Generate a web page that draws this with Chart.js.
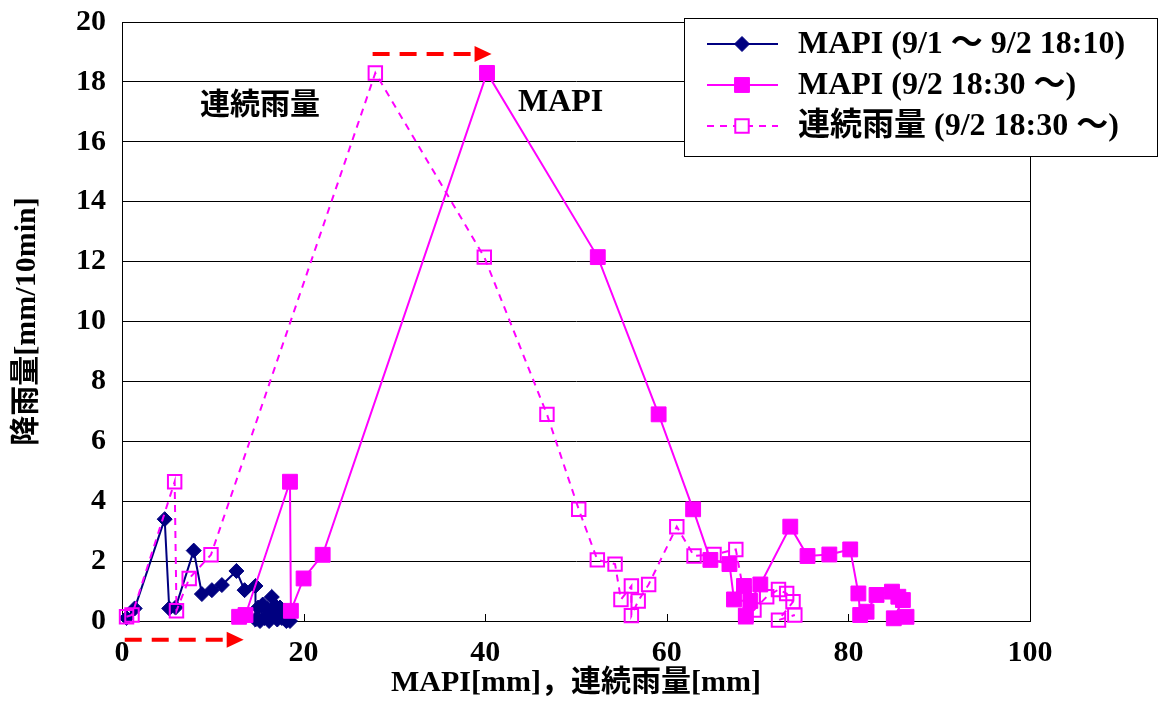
<!DOCTYPE html>
<html>
<head>
<meta charset="utf-8">
<script src="https://cdn.jsdelivr.net/npm/chart.js@4/dist/chart.umd.min.js"></script>
<style>
  html, body { margin: 0; padding: 0; background: #ffffff; }
  #wrap { width: 1162px; height: 702px; }
</style>
</head>
<body>
<div id="wrap"><canvas id="c" width="1162" height="702"></canvas></div>
<script>
// ---- series data: x = MAPI or continuous rainfall [mm], y = rainfall [mm/10min]
const seriesLabels = ['MAPI (9/1 ～ 9/2 18:10)', 'MAPI (9/2 18:30 ～)', '連続雨量 (9/2 18:30 ～)'];

const mapiEarlyX = [0.5, 1.4, 4.7, 5.2, 5.9, 7.9, 8.8, 9.9, 11.0, 12.6, 13.5, 14.7, 14.7, 15.0, 15.2, 15.5, 15.7, 16.0, 16.2, 16.5, 16.7, 16.9, 17.1, 17.4, 17.6, 17.9, 18.1, 18.4, 18.5];
const mapiEarlyY = [0.1, 0.42, 3.4, 0.42, 0.45, 2.35, 0.9, 1.03, 1.2, 1.67, 1.03, 1.17, 0.05, 0.45, 0.0, 0.55, 0.1, 0.4, 0.0, 0.8, 0.2, 0.5, 0.05, 0.45, 0.1, 0.35, 0.0, 0.15, 0.0];

const mapiLateX = [12.9, 13.6, 18.5, 18.6, 20.0, 22.1, 40.2, 52.4, 59.1, 62.9, 64.8, 66.9, 67.4, 68.5, 68.7, 69.2, 70.3, 73.6, 75.5, 77.9, 80.2, 81.1, 81.3, 82.0, 83.1, 84.8, 85.5, 86.0, 85.0, 86.4];
const mapiLateY = [0.14, 0.2, 4.65, 0.34, 1.42, 2.21, 18.3, 12.15, 6.9, 3.73, 2.04, 1.9, 0.72, 1.17, 0.18, 0.67, 1.22, 3.15, 2.17, 2.22, 2.39, 0.92, 0.2, 0.31, 0.87, 0.98, 0.81, 0.7, 0.09, 0.14];

const contRainX = [0.5, 1.1, 5.8, 6.0, 7.4, 9.8, 27.9, 39.9, 46.8, 50.3, 52.35, 54.3, 54.95, 56.1, 56.1, 56.85, 58.0, 61.1, 63.0, 65.2, 67.6, 68.5, 68.7, 69.6, 71.0, 72.3, 73.2, 73.9, 72.3, 74.1];
const contRainY = [0.14, 0.2, 4.65, 0.34, 1.42, 2.21, 18.3, 12.15, 6.9, 3.73, 2.04, 1.9, 0.72, 1.17, 0.18, 0.67, 1.22, 3.15, 2.17, 2.22, 2.39, 0.9, 0.14, 0.37, 0.81, 1.05, 0.92, 0.64, 0.03, 0.2];

// axis settings
const xMin = 0, xMax = 100, xStep = 20;
const yMin = 0, yMax = 20, yStep = 2;
const xTitle = 'MAPI[mm]，連続雨量[mm]';
const yTitle = '降雨量[mm/10min]';

// in-plot notes and shift arrows (data coordinates)
const noteTexts = ['連続雨量', 'MAPI'];
const noteX = [15.2, 48.3];
const noteY = [17.3, 17.3];
const arrowFromX = [27.6, 0.3];
const arrowToX = [40.7, 13.4];
const arrowY = [18.93, -0.63];

const NAVY = '#000080';
const MAGENTA = '#FF00FF';
const SERIF = '"Liberation Serif", "Times New Roman", "Noto Sans CJK JP", serif';
const GOTHIC = '"Noto Sans CJK JP", "Noto Sans", sans-serif';

const toPoints = (xs, ys) => xs.map((x, i) => ({ x: x, y: ys[i] }));

const datasets = [
  {
    label: seriesLabels[0],
    data: toPoints(mapiEarlyX, mapiEarlyY),
    showLine: true,
    borderColor: NAVY,
    backgroundColor: NAVY,
    borderWidth: 2,
    pointStyle: 'rectRot',
    pointRadius: 7.5,
    pointBorderWidth: 1,
    pointBackgroundColor: NAVY,
    pointBorderColor: NAVY,
    clip: false,
    order: 3
  },
  {
    label: seriesLabels[1],
    data: toPoints(mapiLateX, mapiLateY),
    showLine: true,
    borderColor: MAGENTA,
    backgroundColor: MAGENTA,
    borderWidth: 2,
    pointStyle: 'rect',
    pointRadius: 10.5,
    pointBorderWidth: 1,
    pointBackgroundColor: MAGENTA,
    pointBorderColor: MAGENTA,
    clip: false,
    order: 2
  },
  {
    label: seriesLabels[2],
    data: toPoints(contRainX, contRainY),
    showLine: true,
    borderColor: MAGENTA,
    backgroundColor: 'rgba(0,0,0,0)',
    borderWidth: 2,
    borderDash: [7, 6],
    pointStyle: 'rect',
    pointRadius: 9.5,
    pointBorderWidth: 2,
    pointBackgroundColor: 'rgba(0,0,0,0)',
    pointBorderColor: MAGENTA,
    clip: false,
    order: 1
  }
];

// frame, inner x tick marks, notes, arrows and legend box
const decorations = {
  id: 'decorations',
  beforeDatasetsDraw(chart) {
    const { ctx, chartArea: a, scales: { x } } = chart;
    ctx.save();
    ctx.strokeStyle = '#000';
    ctx.lineWidth = 1;
    ctx.strokeRect(Math.round(a.left) + 0.5, Math.round(a.top) + 0.5, Math.round(a.right - a.left), Math.round(a.bottom - a.top));
    ctx.beginPath();
    for (let v = xMin; v <= xMax; v += xStep) {
      const px = Math.round(x.getPixelForValue(v)) + 0.5;
      ctx.moveTo(px, a.bottom);
      ctx.lineTo(px, a.bottom - 7);
    }
    ctx.stroke();
    ctx.restore();
  },
  afterDraw(chart) {
    const { ctx, scales: { x, y } } = chart;
    ctx.save();

    // text notes inside the plot
    ctx.fillStyle = '#000';
    ctx.textAlign = 'center';
    ctx.textBaseline = 'middle';
    noteTexts.forEach((t, i) => {
      const isLatin = /^[A-Za-z]+$/.test(t);
      ctx.font = isLatin ? 'bold 32px ' + SERIF : 'bold 30px ' + GOTHIC;
      ctx.fillText(t, x.getPixelForValue(noteX[i]), y.getPixelForValue(noteY[i]));
    });

    // red dashed shift arrows
    arrowFromX.forEach((x0v, i) => {
      const x0 = x.getPixelForValue(x0v);
      const x1 = x.getPixelForValue(arrowToX[i]);
      const py = y.getPixelForValue(arrowY[i]);
      const head = 17;
      ctx.strokeStyle = '#FF0000';
      ctx.fillStyle = '#FF0000';
      ctx.lineWidth = 4;
      ctx.setLineDash([17, 10]);
      ctx.beginPath();
      ctx.moveTo(x0, py);
      ctx.lineTo(x1 - head, py);
      ctx.stroke();
      ctx.setLineDash([]);
      ctx.beginPath();
      ctx.moveTo(x1, py);
      ctx.lineTo(x1 - head, py - 8);
      ctx.lineTo(x1 - head, py + 8);
      ctx.closePath();
      ctx.fill();
    });

    // legend box
    const box = { left: 684, top: 18, width: 473, height: 138 };
    ctx.fillStyle = '#fff';
    ctx.fillRect(box.left, box.top, box.width, box.height);
    ctx.strokeStyle = '#000';
    ctx.lineWidth = 1;
    ctx.strokeRect(box.left + 0.5, box.top + 0.5, box.width, box.height);

    const rowY = [44, 85, 126];
    const lineX0 = 707, lineX1 = 778, markX = 742, textX = 798;
    chart.data.datasets.forEach((ds, i) => {
      const ry = rowY[i];
      ctx.strokeStyle = ds.borderColor;
      ctx.lineWidth = 2;
      ctx.setLineDash(ds.borderDash || []);
      ctx.beginPath();
      ctx.moveTo(lineX0, ry);
      ctx.lineTo(lineX1, ry);
      ctx.stroke();
      ctx.setLineDash([]);
      // marker
      ctx.beginPath();
      if (ds.pointStyle === 'rectRot') {
        const r = ds.pointRadius;
        ctx.moveTo(markX, ry - r);
        ctx.lineTo(markX + r, ry);
        ctx.lineTo(markX, ry + r);
        ctx.lineTo(markX - r, ry);
        ctx.closePath();
      } else {
        const h = ds.pointRadius * Math.SQRT1_2;
        ctx.rect(markX - h, ry - h, 2 * h, 2 * h);
      }
      if (ds.pointBackgroundColor !== 'rgba(0,0,0,0)') {
        ctx.fillStyle = ds.pointBackgroundColor;
        ctx.fill();
      } else {
        ctx.fillStyle = '#fff';
        ctx.fill();
      }
      ctx.strokeStyle = ds.pointBorderColor;
      ctx.lineWidth = ds.pointBorderWidth;
      ctx.stroke();
      // label
      ctx.fillStyle = '#000';
      ctx.textAlign = 'left';
      ctx.textBaseline = 'middle';
      ctx.font = 'bold 32px ' + SERIF;
      ctx.fillText(ds.label, textX, ry + 1);
    });

    ctx.restore();
  }
};

new Chart(document.getElementById('c'), {
  type: 'scatter',
  data: { datasets: datasets },
  plugins: [decorations],
  options: {
    responsive: false,
    devicePixelRatio: 1,
    animation: false,
    layout: { padding: { top: 22, right: 132, bottom: 0, left: 0 } },
    plugins: {
      legend: { display: false },
      tooltip: { enabled: false }
    },
    scales: {
      x: {
        type: 'linear',
        min: xMin,
        max: xMax,
        afterFit(scale) {
          scale.height = 81;
          scale.paddingLeft = 0;
          scale.paddingRight = 0;
        },
        ticks: {
          stepSize: xStep,
          color: '#000',
          padding: 14,
          maxRotation: 0,
          font: { family: SERIF, size: 30, weight: 'bold' }
        },
        grid: { display: false, drawTicks: false },
        border: { display: true, color: '#000', width: 1 },
        title: {
          display: true,
          text: xTitle,
          color: '#000',
          padding: { top: 0, bottom: 1 },
          font: { family: SERIF, size: 30, weight: 'bold' }
        }
      },
      y: {
        type: 'linear',
        min: yMin,
        max: yMax,
        afterFit(scale) {
          scale.width = 122;
          scale.paddingTop = 0;
          scale.paddingBottom = 0;
        },
        ticks: {
          stepSize: yStep,
          color: '#000',
          padding: 16,
          font: { family: SERIF, size: 30, weight: 'bold' }
        },
        grid: { color: '#000', lineWidth: 1, drawTicks: false },
        border: { display: true, color: '#000', width: 1 },
        title: {
          display: true,
          text: yTitle,
          color: '#000',
          padding: { top: 9, bottom: 0 },
          font: { family: SERIF, size: 30, weight: 'bold' }
        }
      }
    }
  }
});
</script>
</body>
</html>
